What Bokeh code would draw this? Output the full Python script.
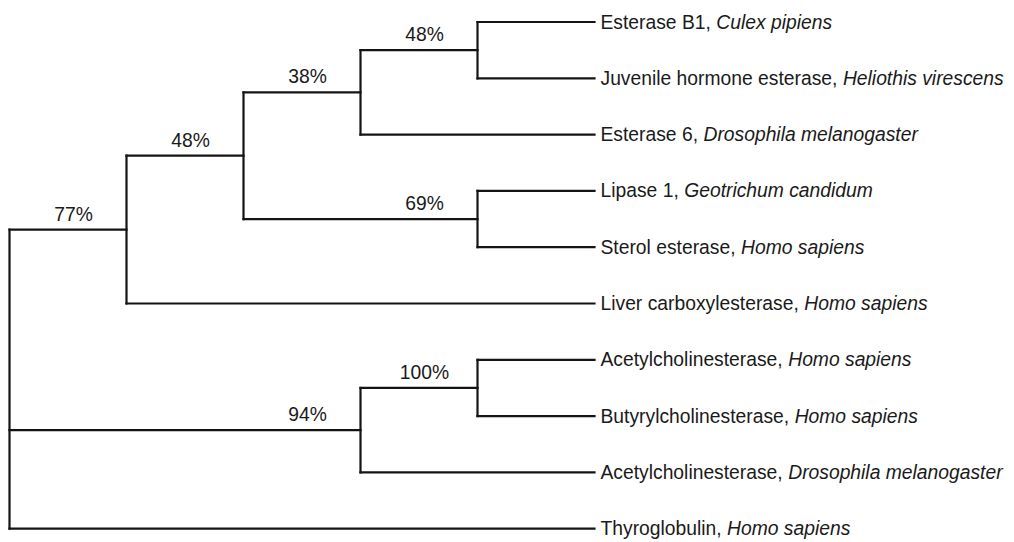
from bokeh.plotting import figure
from bokeh.models import Range1d, ColumnDataSource
from bokeh.core.properties import value
from bokeh.embed import file_html
from bokeh.resources import INLINE

# ---------------- data ----------------
leaf_proteins = ["Esterase B1, ", "Juvenile hormone esterase, ", "Esterase 6, ",
                 "Lipase 1, ", "Sterol esterase, ", "Liver carboxylesterase, ",
                 "Acetylcholinesterase, ", "Butyrylcholinesterase, ",
                 "Acetylcholinesterase, ", "Thyroglobulin, "]
leaf_species = ["Culex pipiens", "Heliothis virescens", "Drosophila melanogaster",
                "Geotrichum candidum", "Homo sapiens", "Homo sapiens",
                "Homo sapiens", "Homo sapiens", "Drosophila melanogaster",
                "Homo sapiens"]
leaf_parent = ["n48b", "n48b", "n38", "n69", "n69", "n77", "n100", "n100", "n94", "root"]
leaf_depth = [5, 5, 5, 5, 5, 5, 5, 5, 5, 5]

node_ids = ["root", "n77", "n48a", "n38", "n48b", "n69", "n94", "n100"]
node_parent = [None, "root", "n77", "n48a", "n38", "n48a", "root", "n94"]
node_depth = [0, 1, 2, 3, 4, 4, 3, 4]
node_support = ["", "77%", "48%", "38%", "48%", "69%", "94%", "100%"]

# ---------------- layout helpers ----------------
FONT = "Liberation Sans"
FSIZE = 19.3
ARIAL_W = {' ': 278, ',': 278, '1': 556, '6': 556, 'A': 667, 'B': 667, 'D': 722,
           'E': 667, 'G': 778, 'H': 722, 'J': 500, 'L': 556, 'S': 667, 'T': 611,
           'a': 556, 'b': 556, 'c': 500, 'd': 556, 'e': 556, 'g': 556, 'h': 556,
           'i': 222, 'l': 222, 'm': 833, 'n': 556, 'o': 556, 'p': 556, 'r': 333,
           's': 500, 't': 278, 'u': 556, 'v': 500, 'x': 500, 'y': 500}


def text_w(s):
    return sum(ARIAL_W.get(c, 556) for c in s) * FSIZE / 1000.0


depth = {}
ypos = {}
children = {n: [] for n in node_ids}
for nid, par, d in zip(node_ids, node_parent, node_depth):
    depth[nid] = d
    if par is not None:
        children[par].append(nid)
for i, (par, d) in enumerate(zip(leaf_parent, leaf_depth)):
    key = "leaf%d" % i
    depth[key] = d
    ypos[key] = i
    children[par].append(key)


def get_y(n):
    if n in ypos:
        return ypos[n]
    ys = [get_y(c) for c in children[n]]
    ypos[n] = (min(ys) + max(ys)) / 2.0
    return ypos[n]


get_y("root")

hx0, hx1, hy = [], [], []
vx, vy0, vy1 = [], [], []
for n in node_ids:
    ys = [ypos[c] for c in children[n]]
    vx.append(depth[n]); vy0.append(min(ys)); vy1.append(max(ys))
    for c in children[n]:
        hx0.append(depth[n]); hx1.append(depth[c]); hy.append(ypos[c])

# ---------------- figure ----------------
W, H = 1012, 540
XS, YS = 117.0, 56.3           # pixels per depth level / per leaf row
X0, Y0 = 9.0, 21.5             # pixel position of root / first leaf
xr = Range1d(-X0 / XS, (W - X0) / XS)
yr = Range1d((H - Y0) / YS, -Y0 / YS)
p = figure(width=W, height=H, output_backend="svg", toolbar_location=None,
           x_range=xr, y_range=yr,
           min_border=0, background_fill_color="white", border_fill_color="white")
p.axis.visible = False
p.grid.visible = False
p.outline_line_color = None

LC = "#141414"
p.segment(x0=hx0, y0=hy, x1=hx1, y1=hy, line_color=LC, line_width=2.2, line_cap="square")
p.segment(x0=vx, y0=vy0, x1=vx, y1=vy1, line_color=LC, line_width=2.2, line_cap="square")

# leaf labels
lsrc = ColumnDataSource(dict(
    x=[depth["leaf%d" % i] for i in range(len(leaf_proteins))],
    y=[ypos["leaf%d" % i] for i in range(len(leaf_proteins))],
    prot=leaf_proteins, spec=leaf_species,
    off2=[6 + text_w(s) for s in leaf_proteins]))
p.text(x="x", y="y", text="prot", source=lsrc, x_offset=6,
       text_font=value(FONT), text_font_size="%.1fpx" % FSIZE, text_color="#1a1a1a",
       text_baseline="middle", text_align="left")
p.text(x="x", y="y", text="spec", source=lsrc, x_offset="off2",
       text_font=value(FONT), text_font_size="%.1fpx" % FSIZE, text_font_style="italic",
       text_color="#1a1a1a", text_baseline="middle", text_align="left")

# support values (centred ~53px left of the node, ~15px above its branch)
sx = [depth[n] - 53.0 / XS for n, s in zip(node_ids, node_support) if s]
sy = [ypos[n] - 15.5 / YS for n, s in zip(node_ids, node_support) if s]
st = [s for s in node_support if s]
p.text(x=sx, y=sy, text=st,
       text_font=value(FONT), text_font_size="%.1fpx" % FSIZE, text_color="#1a1a1a",
       text_baseline="middle", text_align="center")

open("out.html", "w").write(file_html(p, INLINE))
